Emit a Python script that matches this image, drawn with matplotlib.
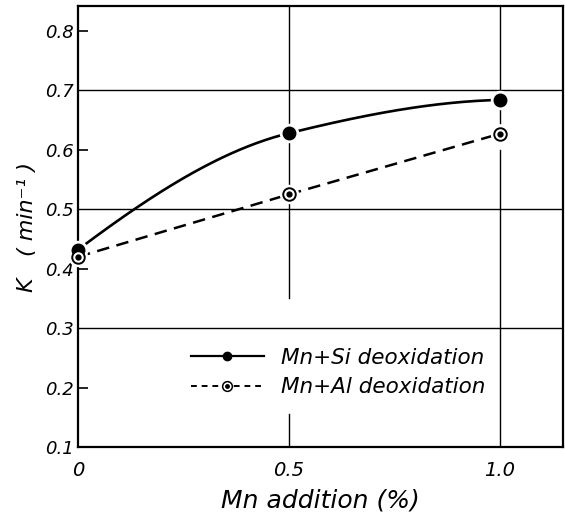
import numpy as np
import matplotlib
matplotlib.use("Agg")
import matplotlib.pyplot as plt
from matplotlib.lines import Line2D
from matplotlib.legend_handler import HandlerTuple

mn = [0.0, 0.5, 1.0]
k_si = [0.432, 0.628, 0.684]
k_al = [0.420, 0.525, 0.627]
yticks = [0.1, 0.2, 0.3, 0.4, 0.5, 0.6, 0.7, 0.8]
ylabels = ["0.1", "0.2", "0.3", "0.4", "0.5", "0.6", "0.7", "0.8"]
xticks = [0.0, 0.5, 1.0]
xlabels = ["0", "0.5", "1.0"]


def pchip_curve(x, y, n=100):
    """Monotone cubic Hermite drawing through the given points."""
    x = np.asarray(x, float); y = np.asarray(y, float)
    h = np.diff(x); d = np.diff(y) / h
    m = np.zeros_like(y)
    for i in range(1, len(x) - 1):
        if d[i-1] * d[i] > 0:
            w1 = 2*h[i] + h[i-1]; w2 = h[i] + 2*h[i-1]
            m[i] = (w1 + w2) / (w1/d[i-1] + w2/d[i])
    m[0] = ((2*h[0] + h[1])*d[0] - h[0]*d[1]) / (h[0] + h[1])
    m[-1] = ((2*h[-1] + h[-2])*d[-1] - h[-1]*d[-2]) / (h[-1] + h[-2])
    if m[-1] * d[-1] <= 0:
        m[-1] = 0.15 * d[-1]
    xs, ys = [], []
    for i in range(len(h)):
        t = np.linspace(0, 1, n)
        h00 = 2*t**3 - 3*t**2 + 1; h10 = t**3 - 2*t**2 + t
        h01 = -2*t**3 + 3*t**2; h11 = t**3 - t**2
        xs.append(x[i] + t*h[i])
        ys.append(h00*y[i] + h10*h[i]*m[i] + h01*y[i+1] + h11*h[i]*m[i+1])
    return np.concatenate(xs), np.concatenate(ys)


plt.rcParams['font.family'] = ['DejaVu Sans']
fig = plt.figure(figsize=(5.65, 5.19), dpi=100)
ax = fig.add_axes([78/565, 1-447/519, 485/565, 441/519])
ax.set_xlim(0, 1.15)
ax.set_ylim(0.1, 0.842)

# grid lines
for y in [0.3, 0.5, 0.7]:
    ax.axhline(y, color='black', lw=1.0, zorder=1)
ax.plot([0.5, 0.5], [0.35, 0.842], color='black', lw=1.0, zorder=1)
ax.plot([0.5, 0.5], [0.1, 0.155], color='black', lw=1.0, zorder=1)
ax.plot([1.0, 1.0], [0.1, 0.60], color='black', lw=1.0, zorder=1)
ax.plot([1.0, 1.0], [0.645, 0.842], color='black', lw=1.0, zorder=1)

# Mn+Si smooth curve
xs, ys = pchip_curve(mn, k_si)
ax.plot(xs, ys, color='black', lw=1.9, zorder=3)
ax.plot(mn, k_si, 'o', color='white', ms=13, zorder=4, clip_on=False)
ax.plot(mn, k_si, 'o', color='black', ms=9, zorder=5, clip_on=False)

# Mn+Al dashed
ax.plot(mn, k_al, color='black', lw=1.8, dashes=(5, 3), zorder=3)
ax.plot(mn, k_al, 'o', color='white', ms=13, zorder=4, clip_on=False)
ax.plot(mn, k_al, 'o', mfc='white', mec='black', mew=1.4, ms=9, zorder=5, clip_on=False)
ax.plot(mn, k_al, 'o', color='black', ms=3.5, zorder=6, clip_on=False)

for s in ax.spines.values():
    s.set_linewidth(1.6)

ax.set_yticks(yticks)
ax.set_yticklabels(ylabels, fontsize=13, style='italic')
ax.set_xticks(xticks)
ax.set_xticklabels(xlabels, fontsize=14, style='italic')
ax.tick_params(axis='y', direction='in', length=7, width=1.2, pad=3)
ax.tick_params(axis='x', length=0, pad=10)
for tl, yv in zip(ax.yaxis.get_ticklines()[::2], yticks):
    if yv in (0.1, 0.3, 0.5, 0.7):
        tl.set_visible(False)

ax.set_xlabel("Mn addition (%)", fontsize=18, style='italic', labelpad=6)
ax.set_ylabel("K   ( min\u207b\u00b9 )", fontsize=16, style='italic', labelpad=6)

h_si = Line2D([], [], color='black', lw=1.6, marker='o', ms=6)
h_al1 = Line2D([], [], color='black', lw=1.4, dashes=(3, 2.5), marker='o', mfc='white', mec='black', mew=1.1, ms=7)
h_al2 = Line2D([], [], ls='none', marker='o', color='black', ms=2.5)
ax.legend([h_si, (h_al1, h_al2)], ["Mn+Si deoxidation", "Mn+Al deoxidation"],
          handler_map={tuple: HandlerTuple(ndivide=1)},
          loc='upper left', bbox_to_anchor=(0.215, 0.245), frameon=False,
          prop={'size': 15.5, 'style': 'italic'}, handlelength=3.4, handletextpad=0.8,
          labelspacing=0.45, borderaxespad=0)

fig.savefig("out.png", dpi=100)
